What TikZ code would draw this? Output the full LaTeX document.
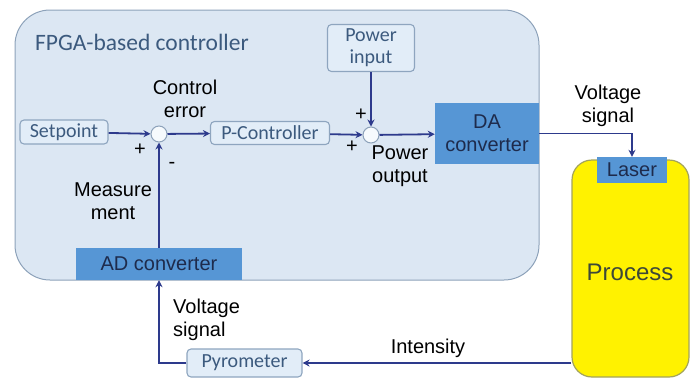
\documentclass[tikz,border=0pt]{standalone}
\usepackage{fontspec}
\setmainfont{Liberation Sans}
\newfontfamily\calibri{Carlito}
\usepackage{tikz}
\usetikzlibrary{arrows.meta}

\definecolor{ctrlfill}{HTML}{DCE7F3}
\definecolor{ctrlline}{HTML}{8DA2BA}
\definecolor{boxfill}{HTML}{E2EDF8}
\definecolor{boxline}{HTML}{8EA5BF}
\definecolor{boxtext}{HTML}{3C5A7E}
\definecolor{convfill}{HTML}{5696D5}
\definecolor{convtext}{HTML}{1E2B4C}
\definecolor{wire}{HTML}{2D3A8C}
\definecolor{procline}{HTML}{A3A35C}
\definecolor{proctext}{HTML}{3D4838}

\begin{document}
\begin{tikzpicture}[
        x=1pt, y=-1pt,
        lbl/.style={font=\fontsize{20}{23}\selectfont, align=center, inner sep=0pt},
        sbox/.style={draw=boxline, fill=boxfill, line width=1.1pt, rounded corners=4pt,
            text=boxtext, font=\calibri\fontsize{20}{22}\selectfont, align=center, inner sep=0pt},
        conv/.style={fill=convfill, text=convtext, font=\fontsize{20}{23}\selectfont,
            align=center, inner sep=0pt},
        sum/.style={circle, draw=ctrlline, fill=white!70!boxfill, line width=1pt,
            minimum size=16pt, inner sep=0pt},
        flow/.style={-{Stealth[length=7pt,width=7pt]}, draw=wire, line width=1.8pt},
        wire/.style={draw=wire, line width=1.8pt}
    ]
    \useasboundingbox (0,0) rectangle (694,378);

    % CONTROLLER
    \draw[fill=ctrlfill, draw=ctrlline, line width=1pt, rounded corners=35pt]
        (15,10) rectangle (539,280);
    \node[anchor=west, text=boxtext, font=\calibri\fontsize{23.5}{26}\selectfont,
        inner sep=0pt] (title) at (35,42) {FPGA-based controller};

    \node[sbox, minimum width=88pt, minimum height=24pt] (setpoint) at (64,132) {Setpoint};
    \node[sum] (sumA) at (159,134) {};
    \node[sbox, minimum width=119pt, minimum height=23pt] (pctrl) at (270,133) {P-Controller};
    \node[sum] (sumB) at (371,135) {};
    \node[sbox, minimum width=87pt, minimum height=47pt] (powin) at (371,48) {Power\\input};
    \node[conv, minimum width=104pt, minimum height=61pt] (daconv) at (487,133.5) {DA\\converter};
    \node[conv, minimum width=166pt, minimum height=32pt] (adconv) at (159,264) {AD converter};

    \node[lbl] (ctrlerr) at (185,99) {Control\\error};
    \node[lbl] (plusA) at (140,150) {+};
    \node[lbl] (minusA) at (172,165) {-};
    \node[lbl] (plusB) at (361,115) {+};
    \node[lbl] (plusC) at (352,147) {+};
    \node[lbl] (powout) at (400,166) {Power\\output};
    \node[lbl] (measure) at (113,201) {Measure\\ment};

    % PROCESS
    \node[draw=procline, fill=yellow, line width=1.2pt, rounded corners=20pt,
        minimum width=117pt, minimum height=217pt, inner sep=0pt] (process) at (630.5,268.5) {};
    \node[text=proctext, font=\fontsize{24}{26}\selectfont, inner sep=0pt] (proclbl)
        at (630,272) {Process};
    \node[conv, minimum width=70pt, minimum height=26pt] (laser) at (632,170) {Laser};
    \node[sbox, minimum width=115pt, minimum height=28pt] (pyro) at (244.5,363) {Pyrometer};

    \node[lbl] (vsigA) at (608,106) {Voltage\\signal};
    \node[lbl, align=left, anchor=west] (vsigB) at (173,320) {Voltage\\signal};
    \node[lbl] (intens) at (428,348) {Intensity};

    % Signal path
    \draw[flow] (setpoint) -- (sumA);
    \draw[flow] (sumA) -- (pctrl);
    \draw[flow] (pctrl) -- (sumB);
    \draw[flow] (powin) -- (sumB);
    \draw[flow] (sumB) -- (daconv);
    \draw[flow] (daconv.east) -| (laser.north);
    \draw[flow] (pyro.east -| process.west) -- (pyro.east);
    \draw[flow] (pyro.west) -| (adconv.south);
    \draw[flow] (adconv.north) -- (sumA.south);

\end{tikzpicture}
\end{document}
